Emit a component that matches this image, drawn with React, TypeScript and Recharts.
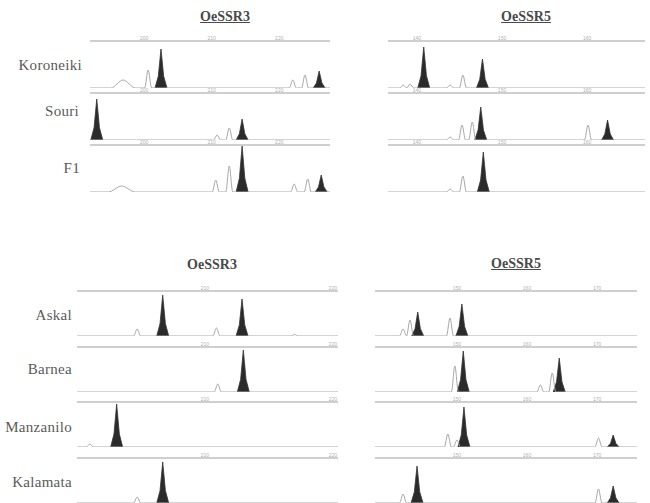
import { ComposedChart, Line, Area, XAxis, YAxis } from 'recharts'

// each peak: [size in bp, height in RFU, optional half width in bp]
type Peak = number[]

const topSamples = ['Koroneiki', 'Souri', 'F1']
const bottomSamples = ['Askal', 'Barnea', 'Manzanilo', 'Kalamata']

const topSsr3Ticks = [200, 210, 220]
const topSsr5Ticks = [140, 150, 160]
const bottomSsr3Ticks = [210, 220]
const bottomSsr5Ticks = [150, 160, 170]

// OeSSR3, parents and F1
const koroneiki3Alleles: Peak[] = [[202.5, 3900], [225.9, 1700]]
const koroneiki3Minor: Peak[] = [[196.9, 800, 1.8], [200.6, 1800], [222.0, 800], [223.8, 1300]]
const souri3Alleles: Peak[] = [[193.0, 4100], [214.5, 2100]]
const souri3Minor: Peak[] = [[210.8, 500], [212.6, 1200]]
const f13Alleles: Peak[] = [[214.5, 4600], [226.2, 1700]]
const f13Minor: Peak[] = [[196.7, 600, 2.0], [210.6, 1200], [212.6, 2600], [222.2, 800], [224.2, 1300]]

// OeSSR5, parents and F1
const koroneiki5Alleles: Peak[] = [[140.8, 4100], [147.7, 2900]]
const koroneiki5Minor: Peak[] = [[138.4, 300], [139.2, 400], [143.9, 300], [145.4, 1300]]
const souri5Alleles: Peak[] = [[147.5, 3300], [162.4, 2000]]
const souri5Minor: Peak[] = [[143.9, 300], [145.3, 1500], [146.5, 1800], [160.1, 1500]]
const f15Alleles: Peak[] = [[147.8, 4000]]
const f15Minor: Peak[] = [[143.9, 300], [145.4, 1600]]

// OeSSR3, cultivars
const askal3Alleles: Peak[] = [[206.7, 4100], [212.9, 3700]]
const askal3Minor: Peak[] = [[204.7, 700], [210.9, 800], [217.0, 150]]
const barnea3Alleles: Peak[] = [[213.0, 4200]]
const barnea3Minor: Peak[] = [[211.0, 800]]
const manzanilo3Alleles: Peak[] = [[203.1, 4300]]
const manzanilo3Minor: Peak[] = [[201.0, 300]]
const kalamata3Alleles: Peak[] = [[206.7, 4100]]
const kalamata3Minor: Peak[] = [[204.7, 600]]

// OeSSR5, cultivars
const askal5Alleles: Peak[] = [[144.4, 2400], [150.7, 3200]]
const askal5Minor: Peak[] = [[142.3, 700], [143.3, 1600], [149.0, 1800]]
const barnea5Alleles: Peak[] = [[150.9, 4100], [164.6, 3400]]
const barnea5Minor: Peak[] = [[149.7, 2600], [161.9, 700], [163.6, 1900]]
const manzanilo5Alleles: Peak[] = [[151.0, 4000], [172.3, 1200]]
const manzanilo5Minor: Peak[] = [[148.7, 1300], [150.0, 700], [170.2, 900]]
const kalamata5Alleles: Peak[] = [[144.3, 3700], [172.3, 1700]]
const kalamata5Minor: Peak[] = [[142.3, 900], [170.2, 1400]]

interface Group {
  left: number
  right: number
  domain: [number, number]
  ticks: number[]
  rows: number[]
  plotH: number
  yMax: number
  alleles: Peak[][]
  minor: Peak[][]
}

const groups: Group[] = [
  {
    left: 90, right: 330, domain: [192, 227.5], ticks: topSsr3Ticks,
    rows: [41, 93, 145], plotH: 47, yMax: 4700,
    alleles: [koroneiki3Alleles, souri3Alleles, f13Alleles],
    minor: [koroneiki3Minor, souri3Minor, f13Minor],
  },
  {
    left: 388, right: 645, domain: [136.6, 166.8], ticks: topSsr5Ticks,
    rows: [41, 93, 145], plotH: 47, yMax: 4700,
    alleles: [koroneiki5Alleles, souri5Alleles, f15Alleles],
    minor: [koroneiki5Minor, souri5Minor, f15Minor],
  },
  {
    left: 77, right: 338, domain: [200, 220.4], ticks: bottomSsr3Ticks,
    rows: [291, 347, 402, 458], plotH: 45, yMax: 4500,
    alleles: [askal3Alleles, barnea3Alleles, manzanilo3Alleles, kalamata3Alleles],
    minor: [askal3Minor, barnea3Minor, manzanilo3Minor, kalamata3Minor],
  },
  {
    left: 375, right: 637, domain: [138.3, 175.7], ticks: bottomSsr5Ticks,
    rows: [291, 347, 402, 458], plotH: 45, yMax: 4500,
    alleles: [askal5Alleles, barnea5Alleles, manzanilo5Alleles, kalamata5Alleles],
    minor: [askal5Minor, barnea5Minor, manzanilo5Minor, kalamata5Minor],
  },
]

const AXIS_H = 6

function traceOf(minor: Peak[], domain: [number, number], hw: number) {
  const pts = [{ x: domain[0], y: 0 }]
  ;[...minor].sort((a, b) => a[0] - b[0]).forEach(([x, h, w]) => {
    const half = w ?? hw
    pts.push({ x: x - half, y: 0 }, { x, y: h }, { x: x + half, y: 0 })
  })
  pts.push({ x: domain[1], y: 0 })
  return pts
}

function peakOf([x, h]: Peak, hw: number) {
  return [
    { x: x - hw, y: 0 },
    { x: x - hw * 0.45, y: h * 0.3 },
    { x, y: h },
    { x: x + hw * 0.45, y: h * 0.3 },
    { x: x + hw, y: 0 },
  ]
}

function Panel({ g, i }: { g: Group; i: number }) {
  const width = g.right - g.left
  const pxPerBp = width / (g.domain[1] - g.domain[0])
  const trace = traceOf(g.minor[i], g.domain, 3.5 / pxPerBp)
  const hw = 6 / pxPerBp
  return (
    <div style={{ position: 'absolute', left: g.left, top: g.rows[i] - AXIS_H }}>
      <ComposedChart width={width} height={AXIS_H + g.plotH} data={trace} margin={{ top: 0, right: 0, bottom: 0, left: 0 }}>
        <XAxis
          type="number"
          dataKey="x"
          orientation="top"
          domain={g.domain}
          ticks={g.ticks}
          allowDataOverflow
          height={AXIS_H}
          tickLine={false}
          tickSize={1}
          tickMargin={0}
          axisLine={{ stroke: '#a0a0a0', strokeWidth: 1.2 }}
          tick={{ fontSize: 5, fill: '#b0b0b0', fontFamily: 'Liberation Sans' }}
        />
        <YAxis hide type="number" domain={[0, g.yMax]} allowDataOverflow />
        <Line data={trace} dataKey="y" type="monotone" stroke="#a8a8a8" strokeWidth={1} dot={false} isAnimationActive={false} />
        {g.alleles[i].map((p, k) => (
          <Area
            key={k}
            data={peakOf(p, hw)}
            dataKey="y"
            type="linear"
            stroke="#333"
            strokeWidth={0.8}
            fill="#2b2b2b"
            fillOpacity={1}
            baseValue={0}
            isAnimationActive={false}
          />
        ))}
      </ComposedChart>
    </div>
  )
}

const titleStyle = {
  position: 'absolute' as const,
  width: 120,
  textAlign: 'center' as const,
  fontFamily: 'Liberation Serif',
  fontWeight: 'bold' as const,
  fontSize: 14,
  color: '#4a4a4a',
  lineHeight: '16px',
}

const labelStyle = {
  position: 'absolute' as const,
  left: 0,
  textAlign: 'right' as const,
  fontFamily: 'Liberation Serif',
  fontSize: 15,
  color: '#5a5a5a',
  lineHeight: '16px',
  letterSpacing: 0.3,
}

const topLabelRight = [82, 79, 80]
const topLabelY = [65, 111, 168]
const bottomLabelY = [315, 369, 427, 482]

export default function App() {
  return (
    <div style={{ position: 'absolute', left: 0, top: 0, width: 650, height: 503, overflow: 'hidden', background: '#fff' }}>
      <div style={{ ...titleStyle, left: 225 - 60, top: 9, textDecoration: 'underline' }}>OeSSR3</div>
      <div style={{ ...titleStyle, left: 526 - 60, top: 9, textDecoration: 'underline' }}>OeSSR5</div>
      <div style={{ ...titleStyle, left: 212 - 60, top: 257 }}>OeSSR3</div>
      <div style={{ ...titleStyle, left: 516 - 60, top: 256, textDecoration: 'underline' }}>OeSSR5</div>

      {topSamples.map((s, i) => (
        <div key={s} style={{ ...labelStyle, width: topLabelRight[i], top: topLabelY[i] - 8 }}>{s}</div>
      ))}
      {bottomSamples.map((s, i) => (
        <div key={s} style={{ ...labelStyle, width: 72, top: bottomLabelY[i] - 8 }}>{s}</div>
      ))}

      {groups.map((g, gi) => g.rows.map((_, i) => <Panel key={`${gi}-${i}`} g={g} i={i} />))}
    </div>
  )
}
